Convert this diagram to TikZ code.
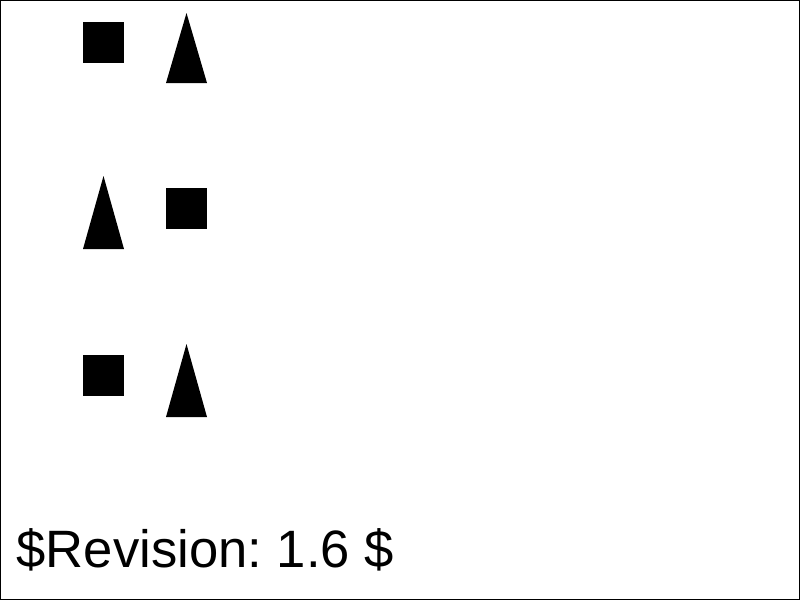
\documentclass[tikz,border=0pt]{standalone}
\usepackage{fontspec}
\setmainfont{Liberation Sans}
\frenchspacing
\tikzset{
  sq/.style={fill=black},
  tri/.style={fill=black},
  frame/.style={draw=black, line width=1.2pt},
  revlabel/.style={anchor=base west, inner sep=0pt, font=\fontsize{52.6}{60}\selectfont}
}
\newcommand{\mysq}[2]{\fill[sq] (#1-20.5,#2-20.5) rectangle (#1+20.5,#2+20.5);}
% x, apex y, base y
\newcommand{\mytri}[3]{\fill[tri] (#1-20.5,#3) -- (#1,#2) -- (#1+20.5,#3) -- cycle;}
\begin{document}
\begin{tikzpicture}[x=1pt,y=-1pt]
\useasboundingbox (0,0) rectangle (800,600);
\draw[frame] (0.6,0.6) rectangle (799.4,599.4);
% row 1
\mysq{103.5}{42}
\mytri{186.5}{13}{83}
% row 2
\mytri{103.5}{176}{249}
\mysq{186.5}{208}
% row 3
\mysq{103.5}{375}
\mytri{186.5}{344}{417}
\node[revlabel] (rev) at (16.5,567) {\$Revision: 1.6 \$};
\end{tikzpicture}
\end{document}
